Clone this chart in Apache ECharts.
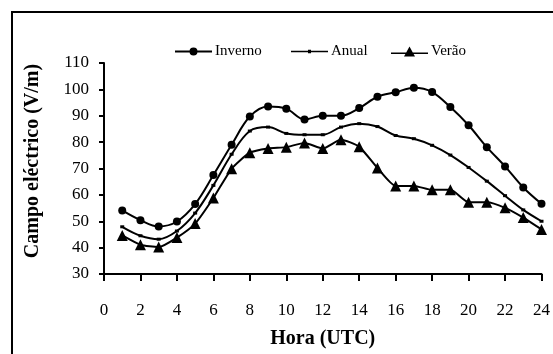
<!DOCTYPE html>
<html>
<head>
<meta charset="utf-8">
<script src="https://cdn.jsdelivr.net/npm/echarts@6/dist/echarts.min.js"></script>
<style>html,body{margin:0;padding:0;background:#fff}#c{width:553px;height:354px}</style>
</head>
<body>
<div id="c"></div>
<script>
const hours = [1,2,3,4,5,6,7,8,9,10,11,12,13,14,15,16,17,18,19,20,21,22,23,24];
const inverno = [54.1,50.4,48.0,49.9,56.5,67.5,79.0,89.7,93.5,92.7,88.6,90.0,90.0,92.9,97.2,98.9,100.6,99.0,93.3,86.4,78.1,70.8,62.8,56.6];
const anual = [47.9,44.5,43.2,46.3,53.1,63.6,75.4,84.2,85.7,83.3,82.8,82.8,85.7,87.0,85.9,82.5,81.3,78.8,75.1,70.4,65.2,59.7,54.3,50.0];
const verao = [44.6,41.1,40.2,43.8,49.1,58.8,69.9,76.0,77.6,78.1,79.7,77.6,80.9,78.2,70.2,63.4,63.4,61.9,61.9,57.2,57.2,55.1,51.4,46.9];
const seriesNames = ['Inverno','Anual','Verão'];
const xTitle = 'Hora (UTC)';
const yTitle = 'Campo eléctrico (V/m)';

const font = 'Liberation Serif, Times New Roman, serif';
const pairs = arr => hours.map((h, i) => [h, arr[i]]);

// legend icons: line + marker, drawn as paths
const iconCircle = 'path://M0,3 L37,3 L37,5 L0,5 Z M22.5,4 A4,4 0 1,1 14.5,4 A4,4 0 1,1 22.5,4 Z';
const iconDash = 'path://M0,1 L37,1 L37,2.6 L0,2.6 Z M17,0 L20,0 L20,3.6 L17,3.6 Z';
const iconTri = 'path://M0,6 L37,6 L37,7.6 L0,7.6 Z M18.5,0 L24,10 L13,10 Z';

const chart = echarts.init(document.getElementById('c'), null, {renderer: 'canvas'});
const legendBase = {
  padding: 0, itemWidth: 37, itemGap: 4, top: 44,
  textStyle: {fontFamily: font, fontSize: 15, color: '#000', padding: [0,0,0,-2]}
};
chart.setOption({
  animation: false,
  backgroundColor: '#fff',
  graphic: [{
    type: 'rect', shape: {x: 12, y: 12, width: 560, height: 380},
    style: {fill: 'none', stroke: '#000', lineWidth: 2}, z: 100, silent: true
  }, {
    type: 'text', x: 33, y: 161, rotation: Math.PI / 2,
    style: {text: yTitle, font: 'bold 20px ' + font, fill: '#000',
            align: 'center', verticalAlign: 'middle', textAlign: 'center', textVerticalAlign: 'middle'}
  }],
  legend: [
    Object.assign({}, legendBase, {left: 175, itemHeight: 8, data: [{name: seriesNames[0], icon: iconCircle}]}),
    Object.assign({}, legendBase, {left: 291, itemHeight: 3.6, data: [{name: seriesNames[1], icon: iconDash}]}),
    Object.assign({}, legendBase, {left: 391, itemHeight: 10, data: [{name: seriesNames[2], icon: iconTri}]})
  ],
  grid: {left: 104, right: 9, top: 63, bottom: 76, containLabel: false},
  xAxis: {
    type: 'value', min: 0, max: 24, interval: 2,
    name: xTitle, nameLocation: 'middle', nameGap: 55,
    nameTextStyle: {fontFamily: font, fontSize: 20, fontWeight: 'bold', color: '#000'},
    axisLine: {onZero: false, lineStyle: {color: '#000', width: 2}},
    axisTick: {show: true, length: 7, lineStyle: {color: '#000', width: 2}},
    axisLabel: {fontFamily: font, fontSize: 17, color: '#000', margin: 28},
    splitLine: {show: false}
  },
  yAxis: {
    type: 'value', min: 30, max: 110, interval: 10,
    axisLine: {show: true, lineStyle: {color: '#000', width: 2}},
    axisTick: {show: true, length: 5, lineStyle: {color: '#000', width: 2}},
    axisLabel: {fontFamily: font, fontSize: 17, color: '#000', margin: 15},
    splitLine: {show: false}
  },
  series: [
    {name: seriesNames[0], type: 'line', data: pairs(inverno), smooth: 0.35,
     symbol: 'circle', symbolSize: 8,
     lineStyle: {color: '#000', width: 2}, itemStyle: {color: '#000'}},
    {name: seriesNames[1], type: 'line', data: pairs(anual), smooth: 0.35,
     symbol: 'rect', symbolSize: [4, 3],
     lineStyle: {color: '#000', width: 2}, itemStyle: {color: '#000'}},
    {name: seriesNames[2], type: 'line', data: pairs(verao), smooth: 0.2,
     symbol: 'triangle', symbolSize: 11,
     lineStyle: {color: '#000', width: 2}, itemStyle: {color: '#000'}}
  ]
});
</script>
</body>
</html>
